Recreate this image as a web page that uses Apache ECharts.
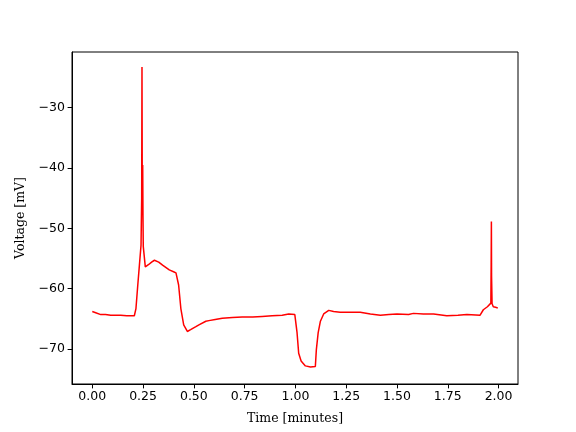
<!DOCTYPE html>
<html>
<head>
<meta charset="utf-8">
<script src="https://cdn.jsdelivr.net/npm/echarts@6/dist/echarts.min.js"></script>
<style>html,body{margin:0;padding:0;background:#fff;}#c{width:576px;height:432px;}</style>
</head>
<body>
<div id="c"></div>
<script>
// Time in minutes
var timeMin = [
  0.000, 0.017, 0.042, 0.065, 0.091, 0.115, 0.140, 0.170, 0.195, 0.207,
  0.215, 0.224, 0.232, 0.240, 0.2432, 0.2447, 0.2462, 0.2482, 0.2496, 0.251,
  0.261, 0.278, 0.292, 0.306, 0.327, 0.346, 0.379, 0.400, 0.412, 0.425,
  0.436, 0.450, 0.468, 0.484, 0.510, 0.525, 0.559, 0.574, 0.605, 0.640,
  0.690, 0.738, 0.790, 0.836, 0.885, 0.935, 0.967, 0.997, 1.002, 1.008,
  1.016, 1.028, 1.049, 1.074, 1.098, 1.103, 1.112, 1.123, 1.139, 1.164,
  1.188, 1.220, 1.254, 1.290, 1.319, 1.369, 1.418, 1.460, 1.500, 1.557,
  1.581, 1.630, 1.680, 1.745, 1.800, 1.844, 1.909, 1.925, 1.945, 1.962,
  1.9635, 1.9646, 1.9655, 1.968, 1.974, 1.985, 1.996
];
// Membrane voltage in mV
var voltageMv = [
  -63.8, -64.0, -64.3, -64.3, -64.4, -64.4, -64.4, -64.5, -64.5, -64.5,
  -63.3, -59.4, -56.1, -52.8, -45.0, -23.3, -45.0, -39.5, -48.0, -53.0,
  -56.4, -56.0, -55.6, -55.3, -55.6, -56.1, -56.9, -57.2, -57.4, -59.4,
  -63.3, -66.0, -67.1, -66.8, -66.3, -66.0, -65.4, -65.3, -65.1, -64.9,
  -64.8, -64.7, -64.7, -64.6, -64.5, -64.4, -64.2, -64.3, -64.3, -67.3,
  -70.7, -72.0, -72.8, -73.0, -72.9, -70.1, -67.3, -65.4, -64.2, -63.6,
  -63.8, -63.9, -63.9, -63.9, -63.9, -64.2, -64.4, -64.3, -64.2, -64.3,
  -64.1, -64.2, -64.2, -64.5, -64.4, -64.3, -64.4, -63.5, -63.0, -62.4,
  -56.0, -48.9, -58.0, -62.5, -63.0, -63.1, -63.2
];
var xTicks = [0, 0.25, 0.5, 0.75, 1.0, 1.25, 1.5, 1.75, 2.0];
var yTicks = [-70, -60, -50, -40, -30];

var points = timeMin.map(function (t, i) { return [t, voltageMv[i]]; });

var chart = echarts.init(document.getElementById('c'), null, {renderer: 'canvas'});
var tickFont = {fontFamily: 'DejaVu Sans', fontSize: 12.5, color: '#000'};
chart.setOption({
  animation: false,
  backgroundColor: '#fff',
  grid: {left: 72, right: 58, top: 52, bottom: 48, show: true, borderColor: '#000', borderWidth: 1, backgroundColor: 'transparent'},
  xAxis: {
    type: 'value', min: -0.0998, max: 2.0956,
    name: 'Time [minutes]', nameLocation: 'middle', nameGap: 28,
    nameTextStyle: {fontFamily: 'DejaVu Serif', fontSize: 12.5, color: '#000'},
    axisLine: {show: true, onZero: false, lineStyle: {color: '#000', width: 1}},
    axisTick: {show: true, length: 4.4, lineStyle: {color: '#000'}, customValues: xTicks},
    axisLabel: Object.assign({margin: 6, customValues: xTicks, formatter: function (v) { return v.toFixed(2); }}, tickFont),
    splitLine: {show: false}
  },
  yAxis: {
    type: 'value', min: -75.8, max: -20.8,
    name: 'Voltage [mV]', nameLocation: 'middle', nameGap: 42, nameRotate: 90,
    nameTextStyle: {fontFamily: 'DejaVu Serif', fontSize: 12.5, color: '#000'},
    axisLine: {show: true, onZero: false, lineStyle: {color: '#000', width: 1}},
    axisTick: {show: true, length: 4.4, lineStyle: {color: '#000'}, customValues: yTicks},
    axisLabel: Object.assign({margin: 7, customValues: yTicks, formatter: function (v) { return v < 0 ? '\u2212' + Math.abs(v) : String(v); }}, tickFont),
    splitLine: {show: false}
  },
  series: [{
    type: 'line', data: points, showSymbol: false, symbol: 'none',
    lineStyle: {color: '#ff0000', width: 1.5},
    z: 3
  }]
});
</script>
</body>
</html>
